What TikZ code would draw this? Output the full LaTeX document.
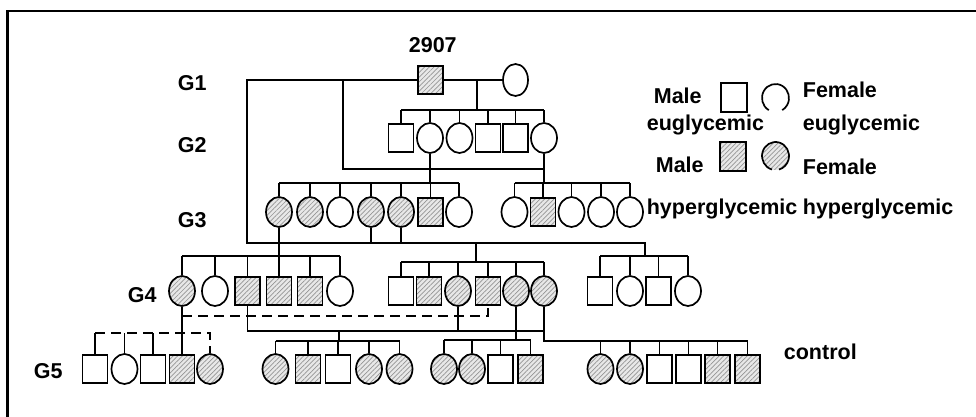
\documentclass[tikz,border=0pt]{standalone}
\usepackage{fontspec}
\setmainfont{Liberation Sans}
\usetikzlibrary{shapes.geometric,patterns.meta}
\begin{document}
\begin{tikzpicture}[x=1pt,y=-1pt,
  line width=1.7pt,
  pm/.style={rectangle,draw,line width=1.7pt,minimum width=25pt,minimum height=28pt,inner sep=0pt},
  pf/.style={ellipse,draw,line width=1.7pt,minimum width=26pt,minimum height=30pt,inner sep=0pt},
  hat/.style={preaction={fill=black!9},pattern={Lines[angle=45,distance=3.3pt,line width=0.7pt]},pattern color=black!42},
  hm/.style={pm,hat},
  hf/.style={pf,hat},
  lbl/.style={font=\fontsize{21.5}{24}\selectfont\bfseries,inner sep=0pt,anchor=base west},
  dsh/.style={dash pattern=on 10pt off 6pt}
]
\useasboundingbox (0,0) rectangle (976,417);
% frame
\draw[line width=2.6pt] (7.5,417) -- (7.5,11) -- (976,11);

% G1
\node[hm] (f) at (430.5,80) {};
\node[pf,minimum width=25pt,minimum height=32pt] (m) at (515.5,80) {};
% G2
\foreach \n/\x/\s in {a1/401/pm,a2/430/pf,a3/459.5/pf,a4/488/pm,a5/515.5/pm,a6/544/pf}
  \node[\s] (\n) at (\x,138) {};
% G3
\foreach \n/\x/\s in {b1/279/hf,b2/310/hf,b3/340/pf,b4/371/hf,b5/401/hf,b6/430.5/hm,b7/459/pf,
  b8/514.5/pf,b9/543/hm,b10/571.5/pf,b11/601/pf,b12/630/pf}
  \node[\s] (\n) at (\x,212) {};
% G4
\foreach \n/\x/\s in {c1/182/hf,c2/215/pf,c3/247.5/hm,c4/279/hm,c5/310/hm,c6/340/pf,
  c7/401/pm,c8/429/hm,c9/458/hf,c10/488/hm,c11/516/hf,c12/544/hf,
  c13/600/pm,c14/630/pf,c15/658.5/pm,c16/688/pf}
  \node[\s] (\n) at (\x,291) {};
% G5
\foreach \n/\x/\s in {d1/95/pm,d2/124.5/pf,d3/153/pm,d4/182/hm,d5/210/hf,
  d6/275.5/hf,d7/308/hm,d8/338/pm,d9/369/hf,d10/399.5/hf,
  d11/444/hf,d12/472/hf,d13/500.5/pm,d14/530.5/hm,
  d15/600.5/hf,d16/630/hf,d17/659.5/pm,d18/688.5/pm,d19/717.5/hm,d20/747.5/hm}
  \node[\s] (\n) at (\x,369) {};

% junction coordinates
\coordinate (s2) at (477,110);
\coordinate (s3) at (0,183);
\coordinate (k1) at (343,169);
\coordinate (k2) at (247,243);
\coordinate (s4l) at (0,256);
\coordinate (s4m) at (476,262);
\coordinate (s4r) at (645,256);
\coordinate (dl) at (0,316);
\coordinate (s5l) at (0,333);
\coordinate (k3) at (0,331);
\coordinate (s5m) at (339,341);
\coordinate (s5n) at (0,340);
\coordinate (s5c) at (0,341);

% G1 -> G2
\draw (f.east) -- (m.west);
\draw (s2 |- f.east) -- (s2);
\draw (a1.north |- s2) -- (a6.north |- s2);
\foreach \k in {a1,a2,a3,a4,a5,a6} \draw (\k.north) -- (\k.north |- s2);
% founder lines
\draw (f.west) -| (k2) -| (s4r);
\draw (f.west -| k1) -- (k1) -| (a6.south);
\draw (a2.south) -- (a2.south |- s3);
\draw (a6.south) -- (a6.south |- s3);
% G3 sibships
\draw (b1.north |- s3) -- (b7.north |- s3);
\foreach \k in {b1,b2,b3,b4,b5,b6,b7} \draw (\k.north) -- (\k.north |- s3);
\draw (b8.north |- s3) -- (b12.north |- s3);
\foreach \k in {b8,b9,b10,b11,b12} \draw (\k.north) -- (\k.north |- s3);
% G3 -> G4
\draw (b4.south) -- (b4.south |- k2);
\draw (b5.south) -- (b5.south |- k2);
\draw (b1.south) -- (b1.south |- s4l);
\draw (s4m |- k2) -- (s4m);
\draw (c1.north |- s4l) -- (c6.north |- s4l);
\foreach \k in {c1,c2,c3,c4,c5,c6} \draw (\k.north) -- (\k.north |- s4l);
\draw (c7.north |- s4m) -- (c12.north |- s4m);
\foreach \k in {c7,c8,c9,c10,c11,c12} \draw (\k.north) -- (\k.north |- s4m);
\draw (c13.north |- s4r) -- (c16.north |- s4r);
\foreach \k in {c13,c14,c15,c16} \draw (\k.north) -- (\k.north |- s4r);
% G4 -> G5
\draw[dsh] (c1.south |- dl) -- (c10.south |- dl) -- (c10.south);
\draw (c1.south) -- (c1.south |- s5l);
\draw[dsh] (d1.north |- s5l) -- (d5.north |- s5l) -- (d5.north);
\foreach \k in {d1,d2,d3,d4} \draw (\k.north) -- (\k.north |- s5l);
\draw (c3.south) |- (c12.south |- k3);
\draw (c9.south) -- (c9.south |- k3);
\draw (s5m |- k3) -- (s5m);
\draw (d6.north |- s5m) -- (d10.north |- s5m);
\foreach \k in {d6,d7,d8,d9,d10} \draw (\k.north) -- (\k.north |- s5m);
\draw (c11.south) -- (c11.south |- s5n);
\draw (d11.north |- s5n) -- (d14.north |- s5n);
\foreach \k in {d11,d12,d13,d14} \draw (\k.north) -- (\k.north |- s5n);
\draw (c12.south) |- (d20.north |- s5c);
\foreach \k in {d15,d16,d17,d18,d19,d20} \draw (\k.north) -- (\k.north |- s5c);

% legend
\node[pm,minimum width=26pt,minimum height=29pt] (lm1) at (734,97.5) {};
\coordinate (lf1) at (775.5,98);
\draw (lf1) ++(120:13.5 and 14) arc[start angle=120,end angle=420,x radius=13.5,y radius=14];
\node[hm,minimum width=26pt,minimum height=29pt] (lm2) at (733,156.5) {};
\node[pf,draw=none,hat,minimum width=27pt,minimum height=28pt] (lf2) at (775.5,156) {};
\draw (lf2.center) ++(105:13.5 and 14) arc[start angle=105,end angle=435,x radius=13.5,y radius=14];

% labels
\node[lbl] (t0) at (408,53) {2907};
\node[lbl] (g1) at (177,91) {G1};
\node[lbl] (g2) at (177,152) {G2};
\node[lbl] (g3) at (177,227) {G3};
\node[lbl] (g4) at (127,302) {G4};
\node[lbl] (g5) at (33,378) {G5};
\node[lbl] (l1) at (653,103) {Male};
\node[lbl] (l2) at (802,98) {Female};
\node[lbl] (l3) at (646,131) {euglycemic};
\node[lbl] (l4) at (802,131) {euglycemic};
\node[lbl] (l5) at (655,172) {Male};
\node[lbl] (l6) at (802,174) {Female};
\node[lbl] (l7) at (646,214) {hyperglycemic};
\node[lbl] (l8) at (802,214) {hyperglycemic};
\node[lbl] (l9) at (783,359) {control};
\end{tikzpicture}
\end{document}
